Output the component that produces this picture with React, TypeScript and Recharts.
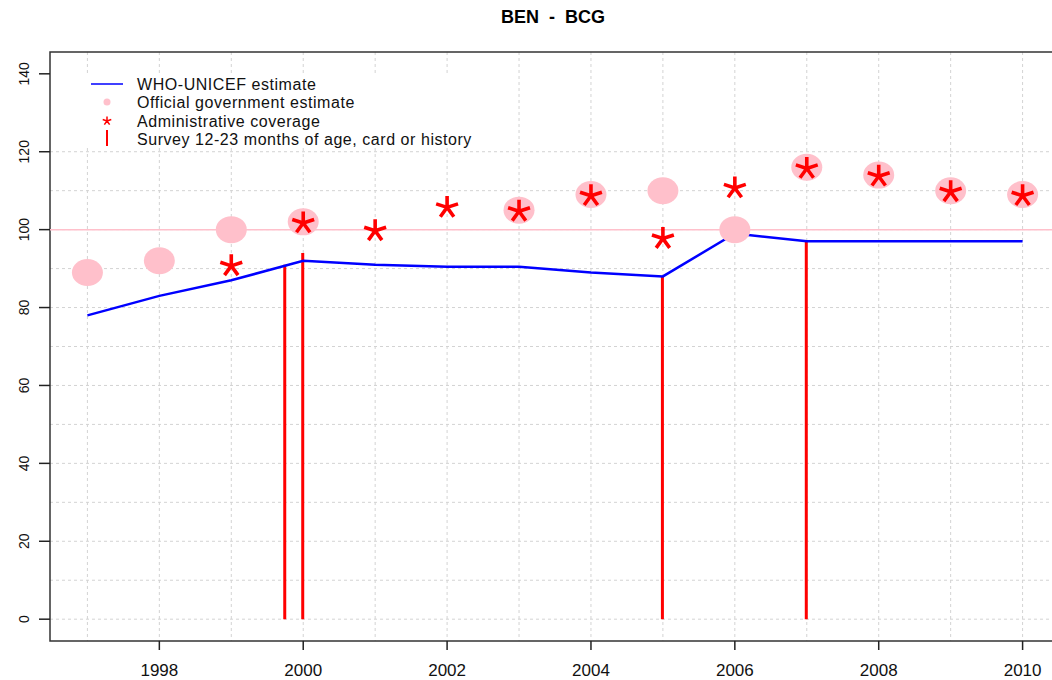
import React from 'react';
import {
  ComposedChart,
  Line,
  Bar,
  Scatter,
  XAxis,
  YAxis,
  CartesianGrid,
  ReferenceLine,
  ReferenceArea
} from 'recharts';

// WHO-UNICEF estimate, one value per year
const years = [1997, 1998, 1999, 2000, 2001, 2002, 2003, 2004, 2005, 2006, 2007, 2008, 2009, 2010];
const whoEstimate = [78, 83, 87, 92, 91, 90.5, 90.5, 89, 88, 99, 97, 97, 97, 97];

// Official government estimate
const officialYears = [1997, 1998, 1999, 2000, 2003, 2004, 2005, 2006, 2007, 2008, 2009, 2010];
const officialValues = [89, 92, 100, 102, 105, 109, 110, 100, 116, 114, 110, 109];

// Administrative coverage
const adminYears = [1999, 2000, 2001, 2002, 2003, 2004, 2005, 2006, 2007, 2008, 2009, 2010];
const adminValues = [91, 102, 100, 106, 105, 109, 98, 111, 116, 114, 110, 109];

// Surveys 12-23 months of age, card or history
const surveyYears = [1999.75, 2000, 2005, 2007];
const surveyValues = [91, 94, 88, 97];

const xTicks = [1998, 2000, 2002, 2004, 2006, 2008, 2010];
const yTicks = [0, 20, 40, 60, 80, 100, 120, 140];
const gridY = [0, 10, 20, 30, 40, 50, 60, 70, 80, 90, 100, 110, 120];

const X_DOMAIN = [1996.48, 2010.52];
const Y_DOMAIN = [-5.6, 145.6];
const FONT = '"Liberation Sans", Arial, Helvetica, sans-serif';

const legendItems = [
  'WHO-UNICEF estimate',
  'Official government estimate',
  'Administrative coverage',
  'Survey 12-23 months of age, card or history'
];

// line series + survey bars share one table keyed by year
const chartData = [...years, ...surveyYears.filter(y => !years.includes(y))]
  .sort((a, b) => a - b)
  .map(year => {
    const wi = years.indexOf(year);
    const si = surveyYears.indexOf(year);
    return {
      year,
      who: wi >= 0 ? whoEstimate[wi] : null,
      survey: si >= 0 ? surveyValues[si] : null
    };
  });

const officialData = officialYears.map((year, i) => ({ year, value: officialValues[i] }));
const adminData = adminYears.map((year, i) => ({ year, value: adminValues[i] }));

const asteriskPath = (cx: number, cy: number, len: number) => {
  const angles = [-90, -18, -162, 54, 126];
  const oy = cy + len * 0.1;
  return angles
    .map(a => {
      const r = (a * Math.PI) / 180;
      return `M${cx},${oy}L${cx + len * Math.cos(r)},${oy + len * Math.sin(r)}`;
    })
    .join('');
};

const Ellipse = (props: any) => {
  const { cx, cy } = props;
  if (cx == null || cy == null) return null;
  return <ellipse cx={cx} cy={cy} rx={15.5} ry={13.5} fill="#FFC0CB" />;
};

const Asterisk = (props: any) => {
  const { cx, cy } = props;
  if (cx == null || cy == null) return null;
  return <path d={asteriskPath(cx, cy, 11.5)} stroke="#FF0000" strokeWidth={3.6} fill="none" />;
};

const YTick = (props: any) => {
  const { x, y, payload } = props;
  return (
    <text
      x={x}
      y={y}
      transform={`rotate(-90, ${x}, ${y})`}
      textAnchor="middle"
      fontSize={14}
      fontFamily={FONT}
      fill="#111"
    >
      {payload.value}
    </text>
  );
};

const XTick = (props: any) => {
  const { x, y, payload } = props;
  return (
    <text x={x} y={y + 12} textAnchor="middle" fontSize={17} fontFamily={FONT} fill="#111">
      {payload.value}
    </text>
  );
};

const Overlay = () => {
  const rows = [90, 108, 126.5, 144.5];
  return (
    <svg
      width={1052}
      height={680}
      style={{ position: 'absolute', left: 0, top: 0, pointerEvents: 'none' }}
    >
      <text
        x={553}
        y={23}
        textAnchor="middle"
        fontSize={18}
        fontWeight="bold"
        fontFamily={FONT}
        fill="#000"
        style={{ whiteSpace: 'pre' }}
      >
        {'BEN  -  BCG'}
      </text>
      {/* legend with white background, no border */}
      <rect x={74} y={73} width={408} height={73} fill="#fff" />
      <line x1={91} y1={84} x2={123} y2={84} stroke="#0000FF" strokeWidth={1.5} />
      <circle cx={107} cy={102} r={3.5} fill="#FFC0CB" />
      <path d={asteriskPath(107, 120.5, 4.5)} stroke="#FF0000" strokeWidth={1.5} fill="none" />
      <line x1={107} y1={130} x2={107} y2={146} stroke="#FF0000" strokeWidth={2} />
      {legendItems.map((label, i) => (
        <text
          key={label}
          x={137}
          y={rows[i]}
          fontSize={16}
          letterSpacing={0.55}
          fontFamily={FONT}
          fill="#111"
        >
          {label}
        </text>
      ))}
    </svg>
  );
};

export default function App() {
  return (
    <div
      style={{
        position: 'absolute',
        left: 0,
        top: 0,
        width: 1052,
        height: 680,
        overflow: 'hidden',
        background: '#fff'
      }}
    >
      <ComposedChart
        width={1070}
        height={680}
        data={chartData}
        margin={{ top: 52, right: 10, bottom: 0, left: 0 }}
      >
        <CartesianGrid
          stroke="#d3d3d3"
          strokeDasharray="3 3"
          horizontalValues={gridY}
          verticalValues={years}
        />
        <XAxis
          type="number"
          dataKey="year"
          domain={X_DOMAIN}
          ticks={xTicks}
          allowDataOverflow
          height={39}
          axisLine={false}
          tickLine={{ stroke: '#222', strokeWidth: 1.5 }}
          tickSize={9}
          tickMargin={14}
          tick={<XTick />}
        />
        <YAxis
          type="number"
          domain={Y_DOMAIN}
          ticks={yTicks}
          allowDataOverflow
          width={50}
          axisLine={false}
          tickLine={{ stroke: '#222', strokeWidth: 1.5 }}
          tickSize={11}
          tickMargin={10}
          tick={<YTick />}
        />
        <ReferenceLine y={100} stroke="#FFC0CB" strokeWidth={1.5} />
        <Scatter
          data={officialData}
          dataKey="value"
          shape={<Ellipse />}
          isAnimationActive={false}
        />
        <Line
          dataKey="who"
          stroke="#0000FF"
          strokeWidth={2.5}
          dot={false}
          connectNulls
          isAnimationActive={false}
        />
        <Bar dataKey="survey" fill="#FF0000" barSize={3} isAnimationActive={false} />
        <Scatter
          data={adminData}
          dataKey="value"
          shape={<Asterisk />}
          isAnimationActive={false}
        />
        <ReferenceArea
          x1={X_DOMAIN[0]}
          x2={X_DOMAIN[1]}
          y1={Y_DOMAIN[0]}
          y2={Y_DOMAIN[1]}
          fill="none"
          stroke="#333"
          strokeWidth={1.5}
        />
      </ComposedChart>
      <Overlay />
    </div>
  );
}
